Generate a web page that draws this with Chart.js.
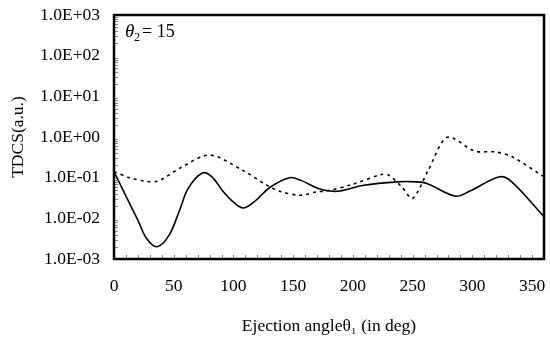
<!DOCTYPE html>
<html><head><meta charset="utf-8">
<script src="https://cdn.jsdelivr.net/npm/chart.js@4"></script>
<style>html,body{margin:0;padding:0;background:#fff}#wrap{width:550px;height:338px}</style>
</head><body><div id="wrap"><canvas id="c" width="550" height="338"></canvas></div>
<script>
// Data
const solidAngles = [0,10,20,27,36,46,55,62,74,82,91,100,108,117,131,147,156,171,181,189,209,237,253,262,286,298,323,333,360];
const solidValues = [0.14,0.035,0.009,0.0033,0.002,0.0038,0.016,0.054,0.13,0.105,0.047,0.025,0.018,0.025,0.059,0.10,0.087,0.054,0.047,0.047,0.065,0.079,0.079,0.072,0.035,0.047,0.105,0.079,0.011];
const dashAngles = [0,13,26,37,55,80,108,128,139,156,170,178,200,224,230,241,250,263,279,302,319,333,360];
const dashValues = [0.14,0.10,0.082,0.083,0.17,0.36,0.15,0.065,0.046,0.037,0.045,0.047,0.069,0.12,0.115,0.059,0.031,0.15,0.98,0.45,0.43,0.33,0.105];
const xTicks = [0,50,100,150,200,250,300,350];
const yTickValues = [1e-3,1e-2,1e-1,1e0,1e1,1e2,1e3];
const yTickLabels = ['1.0E-03','1.0E-02','1.0E-01','1.0E+00','1.0E+01','1.0E+02','1.0E+03'];
const xTitle = 'Ejection angle\u03b8\u2081 (in deg)';
const yTitle = 'TDCS(a.u.)';

const FONT = "'Liberation Serif','Times New Roman',serif";

const framePlugin = {
  id: 'frame',
  afterDatasetsDraw(chart) {
    const {ctx, chartArea: a, scales: {x, y}} = chart;
    ctx.save();
    ctx.lineWidth = 1;
    ctx.strokeStyle = '#888';
    for (let e = -3; e < 3; e++) {
      for (let m = 2; m <= 9; m++) {
        const py = Math.round(y.getPixelForValue(m * Math.pow(10, e))) + 0.5;
        ctx.beginPath(); ctx.moveTo(a.left, py); ctx.lineTo(a.left + 4, py); ctx.stroke();
      }
    }
    for (let v = 10; v < 360; v += 10) {
      const px = Math.round(x.getPixelForValue(v)) + 0.5;
      ctx.beginPath(); ctx.moveTo(px, a.bottom); ctx.lineTo(px, a.bottom - 4); ctx.stroke();
    }
    ctx.strokeStyle = '#000';
    ctx.lineWidth = 2.5;
    ctx.strokeRect(a.left, a.top, a.right - a.left, a.bottom - a.top);
    ctx.fillStyle = '#000';
    ctx.textBaseline = 'alphabetic';
    ctx.font = "italic 19px " + FONT;
    ctx.fillText('\u03b8', 125, 37);
    ctx.font = "12px " + FONT;
    ctx.fillText('2', 134, 41);
    ctx.font = "18px " + FONT;
    ctx.fillText('= 15', 142, 37);
    ctx.restore();
  }
};

new Chart(document.getElementById('c'), {
  type: 'line',
  data: {
    datasets: [
      {
        data: solidAngles.map((a, i) => ({x: a, y: solidValues[i]})),
        borderColor: '#000', borderWidth: 1.6, pointRadius: 0, tension: 0.35, fill: false
      },
      {
        data: dashAngles.map((a, i) => ({x: a, y: dashValues[i]})),
        borderColor: '#000', borderWidth: 1.6, borderDash: [3, 4], pointRadius: 0, tension: 0.3, fill: false
      }
    ]
  },
  options: {
    responsive: false, animation: false,
    layout: {padding: {top: 15, right: 6, left: 0, bottom: 0}},
    plugins: {legend: {display: false}, tooltip: {enabled: false}},
    scales: {
      x: {
        type: 'linear', min: 0, max: 360,
        afterBuildTicks: s => { s.ticks = xTicks.map(v => ({value: v})); },
        afterFit: s => { s.height = 79; s.paddingLeft = 0; s.paddingRight = 0; },
        grid: {display: false, drawTicks: false},
        border: {display: false},
        ticks: {color: '#000', font: {family: FONT, size: 17.5}, padding: 17, maxRotation: 0, autoSkip: false},
        title: {display: true, text: xTitle, color: '#000', font: {family: FONT, size: 17.5}, padding: {bottom: 1, top: 0}}
      },
      y: {
        type: 'logarithmic', min: 1e-3, max: 1e3,
        afterBuildTicks: s => { s.ticks = yTickValues.map(v => ({value: v})); },
        afterFit: s => { s.width = 114; s.paddingTop = 0; s.paddingBottom = 0; },
        grid: {display: false, drawTicks: false},
        border: {display: false},
        ticks: {color: '#000', font: {family: FONT, size: 17.5}, padding: 14, autoSkip: false,
          callback: (v) => { const i = yTickValues.findIndex(t => Math.abs(Math.log10(t) - Math.log10(v)) < 1e-6); return i >= 0 ? yTickLabels[i] : ''; }},
        title: {display: true, text: yTitle, color: '#000', font: {family: FONT, size: 17.5}, padding: {top: 8, bottom: 0}}
      }
    }
  },
  plugins: [framePlugin]
});
</script>
</body></html>
